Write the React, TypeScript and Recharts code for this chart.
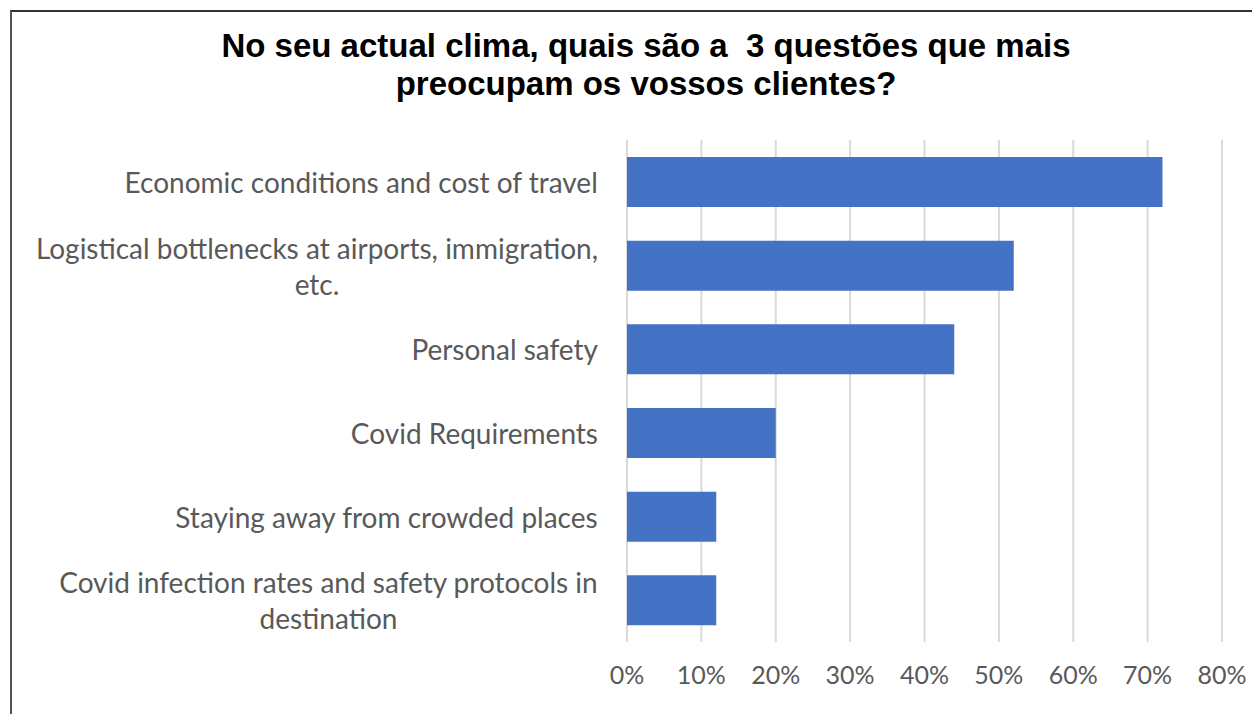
import React from "react"
import { Bar, BarChart, CartesianGrid, XAxis, YAxis } from "recharts"

const categories = [
  "Economic conditions and cost of travel",
  "Logistical bottlenecks at airports, immigration, etc.",
  "Personal safety",
  "Covid Requirements",
  "Staying away from crowded places",
  "Covid infection rates and safety protocols in destination",
]

// how each category label breaks onto lines, as in the original
const categoryLines = [
  ["Economic conditions and cost of travel"],
  ["Logistical bottlenecks at airports, immigration,", "etc."],
  ["Personal safety"],
  ["Covid Requirements"],
  ["Staying away from crowded places"],
  ["Covid infection rates and safety protocols in", "destination"],
]

const shares = [72, 52, 44, 20, 12, 12]

const xTicks = [0, 10, 20, 30, 40, 50, 60, 70, 80]

const titleLines = ["No seu actual clima, quais são a  3 questões que mais", "preocupam os vossos clientes?"]

const LABEL_FONT = "Lato, 'Open Sans', sans-serif"
const CAT_SIZE = 28
const AXIS_SIZE = 25
const LABEL_COLOR = "#595959"

let ctx: CanvasRenderingContext2D | null = null
function textWidth(s: string) {
  if (!ctx) ctx = document.createElement("canvas").getContext("2d")
  if (!ctx) return s.length * CAT_SIZE * 0.5
  ctx.font = `${CAT_SIZE}px Lato`
  return ctx.measureText(s).width
}

function CategoryTick(props: any) {
  const { x, y, payload } = props
  const idx = categories.indexOf(payload.value)
  const lines = categoryLines[idx] || [payload.value]
  const maxW = Math.max(...lines.map(textWidth))
  const cx = x - maxW / 2
  const lineH = 36
  const startY = y - ((lines.length - 1) * lineH) / 2
  return (
    <text
      x={cx}
      y={startY}
      textAnchor="middle"
      fontFamily={LABEL_FONT}
      fontSize={CAT_SIZE}
      fill={LABEL_COLOR}
      dominantBaseline="central"
    >
      {lines.map((line, i) => (
        <tspan key={i} x={cx} y={startY + i * lineH}>
          {line}
        </tspan>
      ))}
    </text>
  )
}

export default function App() {
  const data = categories.map((name, i) => ({ name, value: shares[i] }))

  return (
    <div style={{ position: "absolute", left: 0, top: 0, width: 1252, height: 714, background: "#fff", overflow: "hidden" }}>
      {/* outer frame of the pasted chart */}
      <div
        style={{
          position: "absolute",
          left: 10,
          top: 10,
          width: 1260,
          height: 720,
          borderTop: "2px solid #333",
          borderLeft: "2px solid #555",
        }}
      />
      <div
        style={{
          position: "absolute",
          left: 0,
          top: 27,
          width: 1292,
          textAlign: "center",
          fontFamily: "'Liberation Sans', Arial, sans-serif",
          fontWeight: "bold",
          fontSize: 33,
          lineHeight: "38px",
          color: "#000",
          whiteSpace: "pre",
        }}
      >
        {titleLines.map((t, i) => (
          <div key={i}>{t}</div>
        ))}
      </div>
      <div style={{ position: "absolute", left: 0, top: 0 }}>
        <BarChart
          width={1252}
          height={714}
          data={data}
          layout="vertical"
          margin={{ top: 140, right: 30, bottom: 0, left: 0 }}
        >
          <CartesianGrid horizontal={false} stroke="#d9d9d9" strokeWidth={2} />
          <XAxis
            type="number"
            domain={[0, 80]}
            ticks={xTicks}
            tickFormatter={(v) => `${v}%`}
            axisLine={false}
            tickLine={false}
            tickSize={0}
            tickMargin={24}
            height={72}
            interval={0}
            tick={{ fill: LABEL_COLOR, fontSize: AXIS_SIZE, fontFamily: LABEL_FONT }}
          />
          <YAxis
            type="category"
            dataKey="name"
            width={627}
            axisLine={false}
            tickLine={false}
            tickSize={0}
            tickMargin={29}
            interval={0}
            tick={<CategoryTick />}
          />
          <Bar dataKey="value" fill="#4472c4" barSize={50} isAnimationActive={false} />
        </BarChart>
      </div>
    </div>
  )
}
